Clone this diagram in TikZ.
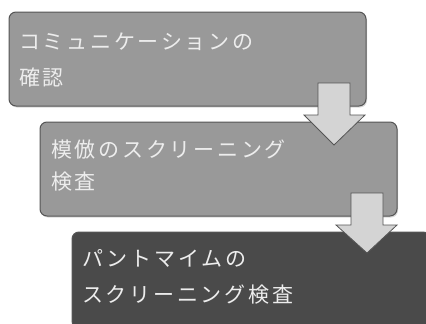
\documentclass[tikz,border=0pt]{standalone}
\usepackage{fontspec}
\newfontfamily\jp{Noto Sans CJK JP}[LetterSpace=13]
\usetikzlibrary{shadows}
\definecolor{boxlight}{HTML}{999999}
\definecolor{boxdark}{HTML}{4A4A4A}
\definecolor{boxedge}{HTML}{555555}
\definecolor{arrowfill}{HTML}{D4D4D4}
\definecolor{arrowedge}{HTML}{555555}
\definecolor{txt}{HTML}{EDEDED}
\tikzset{
  stagebox/.style={draw=boxedge, line width=1pt, rounded corners=7pt, drop shadow={shadow xshift=1pt, shadow yshift=-1.5pt, opacity=0.3}},
  stagetext/.style={text=txt, font=\jp\fontsize{21}{34}\selectfont, anchor=west, inner sep=0pt},
  blockarrow/.style={fill=arrowfill, draw=arrowedge, line width=0.8pt, line join=miter}
}
\begin{document}
\begin{tikzpicture}[x=1pt, y=-1pt]
\useasboundingbox (0,0) rectangle (426,324);
% boxes
\path[stagebox, fill=boxlight] (9,12) rectangle (366,106);
\path[stagebox, fill=boxlight] (40,122) rectangle (397,216);
\path[stagebox, fill=boxdark] (72,232) rectangle (430,328);
% texts
\node[stagetext] (t1a) at (19,42) {コミュニケーションの};
\node[stagetext] (t1b) at (19,78) {確認};
\node[stagetext] (t2a) at (51,150) {模倣のスクリーニング};
\node[stagetext] (t2b) at (51,182) {検査};
\node[stagetext] (t3a) at (82,258) {パントマイムの};
\node[stagetext] (t3b) at (82,295) {スクリーニング検査};
% arrows
\draw[blockarrow] (318,83) -- (350,83) -- (350,115) -- (365,115) -- (334,145) -- (304,115) -- (318,115) -- cycle;
\draw[blockarrow] (351,193) -- (383,193) -- (383,225) -- (397,225) -- (367,253) -- (336,225) -- (351,225) -- cycle;
\end{tikzpicture}
\end{document}
